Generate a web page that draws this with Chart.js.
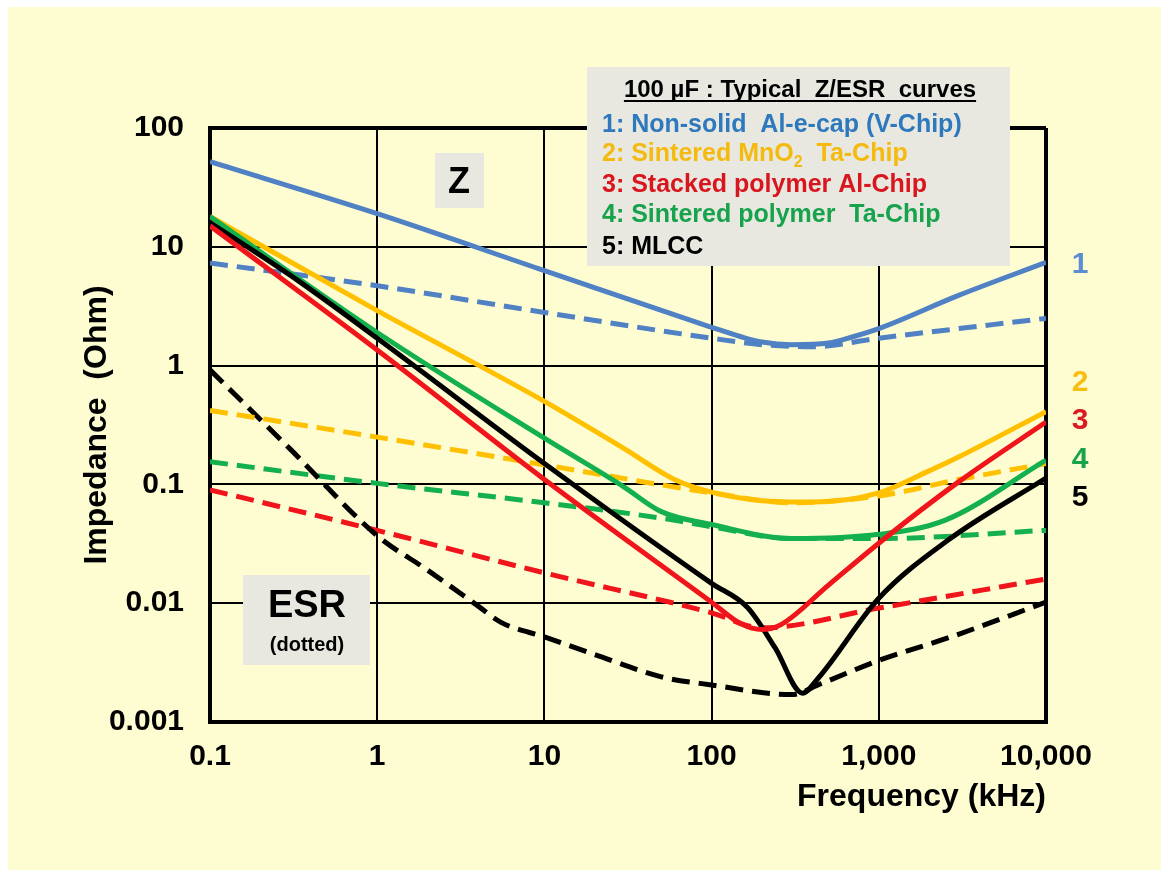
<!DOCTYPE html>
<html><head><meta charset="utf-8">
<script src="https://cdn.jsdelivr.net/npm/chart.js@4.4.0/dist/chart.umd.min.js"></script>
<style>html,body{margin:0;padding:0;background:#fff;} #wrap{position:relative;width:1169px;height:877px;}</style>
</head><body><div id="wrap"><canvas id="c" width="1169" height="877"></canvas></div>
<script>
// ---- axes ----
const xTickValues = [0.1, 1, 10, 100, 1000, 10000];
const xTickLabels = ['0.1', '1', '10', '100', '1,000', '10,000'];
const yTickValues = [0.001, 0.01, 0.1, 1, 10, 100];
const yTickLabels = ['0.001', '0.01', '0.1', '1', '10', '100'];

// ---- 1: Non-solid Al-e-cap (V-Chip) ----
const z1F = [0.1, 1, 10, 100, 150, 200, 300, 500, 700, 1000, 3000, 10000];
const z1V = [52, 19, 6.3, 2.1, 1.75, 1.58, 1.5, 1.55, 1.75, 2.05, 3.9, 7.4];
const esr1F = [0.1, 1, 10, 100, 200, 400, 1000, 10000];
const esr1V = [7.3, 4.7, 2.8, 1.7, 1.5, 1.44, 1.7, 2.5];

// ---- 2: Sintered MnO2 Ta-Chip ----
const z2F = [0.1, 1, 10, 30, 60, 100, 200, 400, 1000, 2000, 3000, 10000];
const z2V = [18, 2.9, 0.5, 0.2, 0.11, 0.086, 0.073, 0.071, 0.085, 0.13, 0.17, 0.41];
const esr2F = [0.1, 1, 10, 100, 300, 1000, 3000, 10000];
const esr2V = [0.42, 0.25, 0.146, 0.085, 0.07, 0.08, 0.11, 0.15];

// ---- 3: Stacked polymer Al-Chip ----
const z3F = [0.1, 1, 10, 100, 150, 200, 260, 500, 1000, 3000, 10000];
const z3V = [15, 1.35, 0.11, 0.0102, 0.0067, 0.006, 0.0066, 0.0142, 0.032, 0.105, 0.335];
const esr3F = [0.1, 1, 10, 100, 200, 1000, 10000];
const esr3V = [0.09, 0.041, 0.018, 0.0083, 0.0062, 0.0091, 0.016];

// ---- 4: Sintered polymer Ta-Chip ----
const z4F = [0.1, 1, 10, 30, 50, 100, 300, 1000, 2500, 10000];
const z4V = [18, 1.9, 0.245, 0.095, 0.059, 0.046, 0.035, 0.038, 0.05, 0.16];
const esr4F = [0.1, 1, 10, 50, 100, 300, 1000, 10000];
const esr4V = [0.155, 0.102, 0.07, 0.052, 0.044, 0.035, 0.035, 0.041];

// ---- 5: MLCC ----
const z5F = [0.1, 0.3, 1, 10, 100, 164, 240, 350, 430, 1000, 2600, 10000];
const z5V = [16, 5.8, 1.7, 0.15, 0.0147, 0.0092, 0.0042, 0.00175, 0.0023, 0.011, 0.034, 0.113];
const esr5F = [0.1, 0.3, 1, 2, 4, 5.5, 10, 20, 50, 100, 300, 450, 1000, 2700, 10000];
const esr5V = [0.92, 0.2, 0.037, 0.019, 0.0095, 0.0069, 0.0052, 0.0037, 0.0024, 0.00205, 0.0017, 0.0021, 0.0033, 0.0052, 0.0102];

// ---- legend / labels ----
const legendTitle = '100 µF : Typical  Z/ESR  curves';
const seriesNames = ['1: Non-solid  Al-e-cap (V-Chip)', '2: Sintered MnO', '3: Stacked polymer Al-Chip', '4: Sintered polymer  Ta-Chip', '5: MLCC'];
const seriesNameTail = ['', '  Ta-Chip', '', '', ''];
const seriesLineColors = ['#4F81C4', '#FFC000', '#F0141B', '#14B04E', '#000000'];
const seriesTextColors = ['#2E78BE', '#F5BA0E', '#D9161E', '#17A24C', '#000000'];
const rightLabels = ['1', '2', '3', '4', '5'];
const rightLabelColors = ['#5B8DD0', '#F7BD0F', '#DB1A22', '#17A24C', '#000000'];

const FONT = "'Liberation Sans', Arial, Helvetica, sans-serif";
const tickSize = 30;
const titleSize = 32;

function pts(fs, vs) { return fs.map((f, i) => ({ x: f, y: vs[i] })); }

function ds(label, fs, vs, color, dashed, order) {
  return {
    label, data: pts(fs, vs), borderColor: color, backgroundColor: color,
    borderWidth: 5, borderDash: dashed ? [18, 9] : [],
    pointRadius: 0, fill: false, order,
    cubicInterpolationMode: 'monotone'
  };
}

const datasets = [
  ds('Z 3', z3F, z3V, seriesLineColors[2], false, 1),
  ds('Z 5', z5F, z5V, seriesLineColors[4], false, 2),
  ds('Z 4', z4F, z4V, seriesLineColors[3], false, 3),
  ds('Z 2', z2F, z2V, seriesLineColors[1], false, 4),
  ds('Z 1', z1F, z1V, seriesLineColors[0], false, 5),
  ds('ESR 2', esr2F, esr2V, seriesLineColors[1], true, 6),
  ds('ESR 1', esr1F, esr1V, seriesLineColors[0], true, 7),
  ds('ESR 5', esr5F, esr5V, seriesLineColors[4], true, 8),
  ds('ESR 4', esr4F, esr4V, seriesLineColors[3], true, 9),
  ds('ESR 3', esr3F, esr3V, seriesLineColors[2], true, 10)
];

const bgPlugin = {
  id: 'bg',
  beforeDraw(chart) {
    const ctx = chart.ctx;
    ctx.save();
    ctx.fillStyle = '#ffffff';
    ctx.fillRect(0, 0, chart.width, chart.height);
    ctx.fillStyle = '#FEFDD2';
    ctx.fillRect(8, 7, 1153, 863);
    ctx.restore();
  }
};

const boxPlugin = {
  id: 'boxes',
  beforeDatasetsDraw(chart) {
    const ctx = chart.ctx;
    ctx.save();
    const gray = '#E8E8E0';
    // Z box
    ctx.fillStyle = gray;
    ctx.fillRect(435, 153, 49, 55);
    ctx.fillStyle = '#000';
    ctx.font = 'bold 36px ' + FONT;
    ctx.textAlign = 'center';
    ctx.textBaseline = 'middle';
    ctx.fillText('Z', 459, 183);
    // ESR box
    ctx.fillStyle = gray;
    ctx.fillRect(243, 575, 127, 90);
    ctx.fillStyle = '#000';
    ctx.font = 'bold 38px ' + FONT;
    ctx.fillText('ESR', 307, 607);
    ctx.font = 'bold 20px ' + FONT;
    ctx.fillText('(dotted)', 307, 645);
    // legend box
    ctx.fillStyle = gray;
    ctx.fillRect(587, 67, 423, 199);
    ctx.font = 'bold 24px ' + FONT;
    ctx.fillStyle = '#000';
    ctx.textAlign = 'center';
    ctx.textBaseline = 'alphabetic';
    ctx.fillText(legendTitle, 800, 97);
    const tw = ctx.measureText(legendTitle).width;
    ctx.fillRect(800 - tw / 2, 100, tw, 2);
    ctx.textAlign = 'left';
    const ys = [132, 161, 192, 222, 254];
    for (let i = 0; i < seriesNames.length; i++) {
      ctx.fillStyle = seriesTextColors[i];
      ctx.font = 'bold 25px ' + FONT;
      ctx.fillText(seriesNames[i], 602, ys[i]);
      if (seriesNameTail[i]) {
        let x = 602 + ctx.measureText(seriesNames[i]).width;
        ctx.font = 'bold 16px ' + FONT;
        ctx.fillText('2', x, ys[i] + 6);
        x += ctx.measureText('2').width;
        ctx.font = 'bold 25px ' + FONT;
        ctx.fillText(seriesNameTail[i], x, ys[i]);
      }
    }
    // right side labels
    ctx.font = 'bold 30px ' + FONT;
    ctx.textAlign = 'center';
    ctx.textBaseline = 'middle';
    const ry = [265, 383, 421, 460, 498];
    for (let i = 0; i < rightLabels.length; i++) {
      ctx.fillStyle = rightLabelColors[i];
      ctx.fillText(rightLabels[i], 1080, ry[i]);
    }
    ctx.restore();
  }
};

const tickFont = { family: FONT, size: tickSize, weight: 'bold' };
const titleFont = { family: FONT, size: titleSize, weight: 'bold' };
const tLH = titleSize * 1.2;
const kLH = tickSize * 1.2;

new Chart(document.getElementById('c'), {
  type: 'line',
  data: { datasets },
  plugins: [bgPlugin, boxPlugin],
  options: {
    responsive: false,
    animation: false,
    devicePixelRatio: 1,
    layout: { padding: { left: 0, top: 128, right: 123, bottom: 0 } },
    plugins: { legend: { display: false }, tooltip: { enabled: false } },
    elements: { point: { radius: 0 }, line: { borderCapStyle: 'butt' } },
    scales: {
      x: {
        type: 'logarithmic', min: 0.1, max: 10000,
        afterBuildTicks: s => { s.ticks = xTickValues.map(v => ({ value: v })); },
        afterFit: s => { s.height = 155; },
        ticks: { callback: (v, i) => xTickLabels[i], autoSkip: false, maxRotation: 0, minRotation: 0, font: tickFont, color: '#000', padding: Math.round(35 - kLH / 2) },
        grid: { color: '#000', lineWidth: c => (c.index === 0 || c.index === xTickValues.length - 1) ? 4 : 2, drawTicks: false },
        border: { display: true, color: '#000', width: 4 },
        title: { display: true, text: 'Frequency (kHz)', align: 'end', color: '#000', font: titleFont, padding: { top: 0, bottom: Math.round(80 - tLH / 2) } }
      },
      y: {
        type: 'logarithmic', min: 0.001, max: 100,
        afterBuildTicks: s => { s.ticks = yTickValues.map(v => ({ value: v })); },
        afterFit: s => { s.width = 210; },
        ticks: { callback: (v, i) => yTickLabels[i], autoSkip: false, font: tickFont, color: '#000', padding: 26 },
        grid: { color: '#000', lineWidth: c => (c.index === 0 || c.index === yTickValues.length - 1) ? 4 : 2, drawTicks: false },
        border: { display: true, color: '#000', width: 4 },
        title: { display: true, text: 'Impedance  (Ohm)', color: '#000', font: titleFont, padding: { top: Math.round(97 - tLH / 2), bottom: 0 } }
      }
    }
  }
});
</script></body></html>
